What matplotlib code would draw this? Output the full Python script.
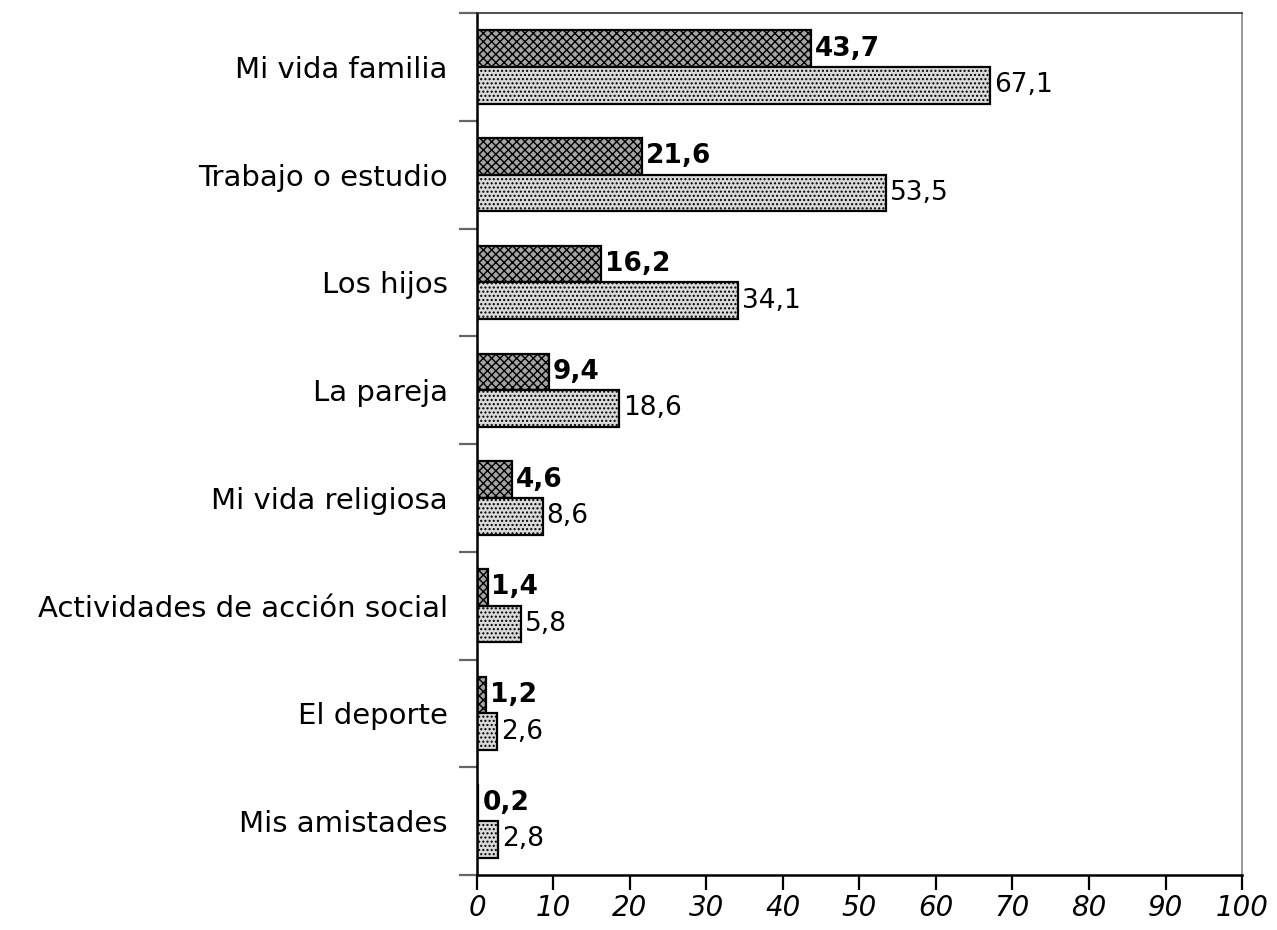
import numpy as np
import matplotlib.pyplot as plt

categorias = [
    "Mi vida familia",
    "Trabajo o estudio",
    "Los hijos",
    "La pareja",
    "Mi vida religiosa",
    "Actividades de acción social",
    "El deporte",
    "Mis amistades",
]
serie_oscura = [43.7, 21.6, 16.2, 9.4, 4.6, 1.4, 1.2, 0.2]
serie_clara = [67.1, 53.5, 34.1, 18.6, 8.6, 5.8, 2.6, 2.8]
ticks_x = [0, 10, 20, 30, 40, 50, 60, 70, 80, 90, 100]


def fmt(v):
    return f"{v:.1f}".replace(".", ",")


plt.rcParams["font.family"] = ["DejaVu Sans"]
plt.rcParams["hatch.color"] = "#5a5a5a"

fig = plt.figure(figsize=(12.77, 9.30), dpi=100)
ax = fig.add_axes([0.3735, 0.0591, 0.5991, 0.9269])

y = np.arange(len(categorias))
h = 0.34

ax.barh(y - h / 2, serie_oscura, height=h, color="#a4a4a4",
        edgecolor="black", linewidth=1.6, hatch="xxxx")
ax.barh(y + h / 2, serie_clara, height=h, color="#dadada",
        edgecolor="black", linewidth=1.6, hatch="....")

for yi, v in zip(y, serie_oscura):
    ax.text(v + 0.5, yi - h / 2, fmt(v), ha="left", va="center",
            fontsize=19, fontweight="bold",
            bbox=dict(facecolor="white", edgecolor="none", pad=1.0))
for yi, v in zip(y, serie_clara):
    ax.text(v + 0.5, yi + h / 2, fmt(v), ha="left", va="center",
            fontsize=19)

ax.set_xlim(0, 100)
ax.set_ylim(len(categorias) - 0.5, -0.5)

ax.set_xticks(ticks_x)
ax.set_xticklabels([str(t) for t in ticks_x], fontsize=20, style="italic")
ax.tick_params(axis="x", length=11, width=1.6, pad=3, direction="out")

ax.set_yticks(y)
ax.set_yticklabels(categorias, fontsize=21)
ax.set_yticks(np.arange(-0.5, len(categorias)), minor=True)
ax.tick_params(axis="y", which="major", length=0, pad=21)
ax.tick_params(axis="y", which="minor", length=13, width=1.6,
               color="#666666", direction="out")

ax.spines["left"].set_linewidth(1.8)
ax.spines["bottom"].set_linewidth(1.8)
ax.spines["top"].set_linewidth(1.2)
ax.spines["top"].set_color("#333333")
ax.spines["right"].set_linewidth(1.2)
ax.spines["right"].set_color("#888888")

fig.savefig("out.png", dpi=100)
